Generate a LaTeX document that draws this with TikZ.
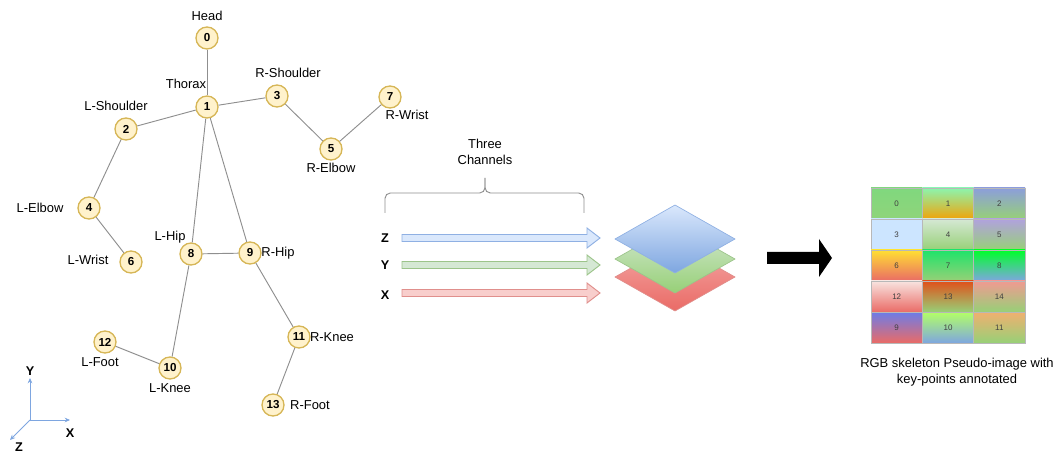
\documentclass[tikz,border=0pt]{standalone}
\usepackage{fontspec}
\setmainfont{Liberation Sans}
\usetikzlibrary{arrows.meta}
\definecolor{yfill}{HTML}{FFF2CC}
\definecolor{ystroke}{HTML}{D6B656}
\definecolor{edgegray}{HTML}{8F8F8F}
\definecolor{axisblue}{HTML}{7EA6E0}
\definecolor{bfill}{HTML}{DAE8FC}\definecolor{bstroke}{HTML}{8FB0E3}
\definecolor{gfill}{HTML}{D5E8D4}\definecolor{gstroke}{HTML}{9CC48A}
\definecolor{rfill}{HTML}{F8CECC}\definecolor{rstroke}{HTML}{E08F8C}
\definecolor{bdark}{HTML}{7EA6E0}\definecolor{gdark}{HTML}{97D077}\definecolor{rdark}{HTML}{EA6B66}
\definecolor{rtop}{HTML}{F4A8A6}
\definecolor{cellborder}{HTML}{B8B8B8}
% cell colours
\definecolor{t0}{HTML}{80D87E}\definecolor{b0}{HTML}{8FD47A}
\definecolor{t1}{HTML}{8CF5AE}\definecolor{b1}{HTML}{F0A30A}
\definecolor{t2}{HTML}{8C9EDB}\definecolor{b2}{HTML}{97D077}
\definecolor{t3}{HTML}{CCE5FF}\definecolor{b3}{HTML}{CCE5FF}
\definecolor{t4}{HTML}{D5E8D4}\definecolor{b4}{HTML}{97D077}
\definecolor{t5}{HTML}{B1A2DE}\definecolor{b5}{HTML}{97D077}
\definecolor{t6}{HTML}{FFE033}\definecolor{b6}{HTML}{EA6B66}
\definecolor{t7}{HTML}{1EE36A}\definecolor{b7}{HTML}{97D077}
\definecolor{t8}{HTML}{00FF2A}\definecolor{b8}{HTML}{7EA6E0}
\definecolor{t9}{HTML}{6C7CE8}\definecolor{b9}{HTML}{EA6B66}
\definecolor{t10}{HTML}{B3FF66}\definecolor{b10}{HTML}{7EA6E0}
\definecolor{t11}{HTML}{F0B070}\definecolor{b11}{HTML}{97D077}
\definecolor{t12}{HTML}{F8E4E0}\definecolor{b12}{HTML}{EA6B66}
\definecolor{t13}{HTML}{E0501A}\definecolor{b13}{HTML}{97D077}
\definecolor{t14}{HTML}{F09A92}\definecolor{b14}{HTML}{97D077}
\begin{document}
\begin{tikzpicture}[x=0.75pt,y=-0.75pt,
  kp/.style={circle, draw=ystroke, fill=yfill, line width=1pt, minimum size=16.5pt, inner sep=0pt,
             font=\fontsize{8.7}{10}\selectfont\bfseries},
  lbl/.style={inner sep=0pt, font=\fontsize{9.7}{12}\selectfont},
  blbl/.style={inner sep=0pt, font=\fontsize{9.5}{11}\selectfont\bfseries},
  sk/.style={draw=edgegray, line width=0.7pt},
  ax/.style={draw=axisblue, line width=0.7pt, -{Stealth[length=4pt,width=3.5pt]}},
  cell/.style={draw=cellborder, line width=0.4pt, minimum width=38.5pt, minimum height=23.25pt,
               inner sep=0pt, font=\fontsize{6}{7}\selectfont, text=black!75},
  brace/.style={draw=edgegray, line width=0.7pt, rounded corners=4pt}
]
\useasboundingbox (0,0) rectangle (1056,452);

% ---------- skeleton key points ----------
\node[kp] (k0) at (207,38) {0};
\node[kp] (k1) at (207,107) {1};
\node[kp] (k2) at (126,129) {2};
\node[kp] (k3) at (277,96) {3};
\node[kp] (k4) at (89,208) {4};
\node[kp] (k5) at (331,149) {5};
\node[kp] (k6) at (131,262) {6};
\node[kp] (k7) at (390,97) {7};
\node[kp] (k8) at (191,254) {8};
\node[kp] (k9) at (250,253) {9};
\node[kp] (k10) at (170,368) {10};
\node[kp] (k11) at (299,337) {11};
\node[kp] (k12) at (105,342) {12};
\node[kp] (k13) at (273,405) {13};

\draw[sk] (k0) -- (k1);
\draw[sk] (k1) -- (k3);
\draw[sk] (k1) -- (k2);
\draw[sk] (k3) -- (k5);
\draw[sk] (k5) -- (k7);
\draw[sk] (k2) -- (k4);
\draw[sk] (k4) -- (k6);
\draw[sk] (k1) -- (k8);
\draw[sk] (k1) -- (k9);
\draw[sk] (k8) -- (k9);
\draw[sk] (k8) -- (k10);
\draw[sk] (k10) -- (k12);
\draw[sk] (k9) -- (k11);
\draw[sk] (k11) -- (k13);

% ---------- labels ----------
\node[lbl] (lhead) at (207,16) {Head};
\node[lbl] (lthorax) at (186,84) {Thorax};
\node[lbl] (lrsh) at (288,73) {R-Shoulder};
\node[lbl] (llsh) at (116,106) {L-Shoulder};
\node[lbl] (lrwr) at (407,115) {R-Wrist};
\node[lbl] (lrel) at (331,168) {R-Elbow};
\node[lbl] (lle) at (40,208) {L-Elbow};
\node[lbl] (llw) at (88,260) {L-Wrist};
\node[lbl] (llhip) at (170,237) {L-Hip};
\node[lbl] (lrhip) at (278,253) {R-Hip};
\node[lbl] (lrknee) at (332,337) {R-Knee};
\node[lbl] (llfoot) at (100,362) {L-Foot};
\node[lbl] (llknee) at (170,388) {L-Knee};
\node[lbl] (lrfoot) at (310,405) {R-Foot};

% ---------- axes ----------
\coordinate (o) at (30,420);
\coordinate (ay) at (30,378);
\coordinate (axx) at (70,420);
\coordinate (az) at (10,440);
\draw[ax] (o) -- (ay);
\draw[ax] (o) -- (axx);
\draw[ax] (o) -- (az);
\node[blbl] (ly) at (30,371) {Y};
\node[blbl] (lx) at (70,433) {X};
\node[blbl] (lz) at (19,447) {Z};

% ---------- channels ----------
\node[lbl, align=center] (chan) at (485,152) {Three\\Channels};
\draw[brace] (385,213) -- (385,193) -- (485,193) -- (485,178);
\draw[brace] (584,213) -- (584,193) -- (485,193) -- (485,178);

\node[blbl] (cz) at (385,238) {Z};
\node[blbl] (cy) at (385,265) {Y};
\node[blbl] (cx) at (385,295) {X};

\draw[fill=bfill, draw=bstroke, line width=0.7pt]
  (402,234.5) -- (587,234.5) -- (587,228) -- (600,238) -- (587,248) -- (587,241.5) -- (402,241.5) -- cycle;
\draw[fill=gfill, draw=gstroke, line width=0.7pt]
  (402,261.5) -- (587,261.5) -- (587,255) -- (600,265) -- (587,275) -- (587,268.5) -- (402,268.5) -- cycle;
\draw[fill=rfill, draw=rstroke, line width=0.7pt]
  (402,289.5) -- (587,289.5) -- (587,283) -- (600,293) -- (587,303) -- (587,296.5) -- (402,296.5) -- cycle;

% ---------- stacked layers ----------
\path[top color=rtop, bottom color=rdark, draw=rstroke, line width=0.5pt]
  (615,277) -- (675,243) -- (735,277) -- (675,311) -- cycle;
\path[top color=gfill, bottom color=gdark, draw=gstroke, line width=0.5pt]
  (615,259) -- (675,225) -- (735,259) -- (675,293) -- cycle;
\path[top color=bfill, bottom color=bdark, draw=bstroke, line width=0.5pt]
  (615,239) -- (675,205) -- (735,239) -- (675,273) -- cycle;

% ---------- black arrow ----------
\fill[black] (767,252) -- (819,252) -- (819,239) -- (832,258) -- (819,277) -- (819,264) -- (767,264) -- cycle;

% ---------- pseudo-image grid ----------
\foreach \i/\c/\r in {0/0/0,1/1/0,2/2/0,3/0/1,4/1/1,5/2/1,6/0/2,7/1/2,8/2/2,12/0/3,13/1/3,14/2/3,9/0/4,10/1/4,11/2/4}{
  \node[cell, top color=t\i, bottom color=b\i] (cell\i) at ({896.7+51.33*\c},{203.5+31*\r}) {\i};
}
\node[lbl, align=center] (caption) at (957,372) {RGB skeleton Pseudo-image with\\key-points annotated};
\end{tikzpicture}
\end{document}
